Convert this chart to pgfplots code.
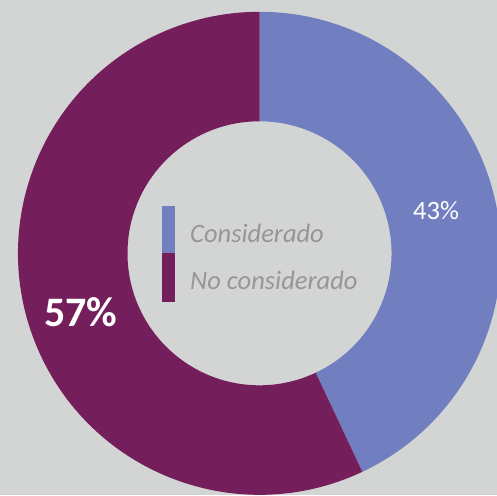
\documentclass[border=0pt]{standalone}
\usepackage{pgfplots}
\pgfplotsset{compat=1.18}
\usepackage{pgfplotstable}
\usepackage{fontspec}
\setmainfont{Carlito}
\definecolor{bg}{RGB}{211,213,212}
\definecolor{cblue}{RGB}{113,127,192}
\definecolor{cpurp}{RGB}{116,30,91}
\definecolor{legtext}{RGB}{150,150,150}
\pgfplotstableread{
value
43
57
}\datatable
\begin{document}
\begin{tikzpicture}
\pgfplotstablegetelem{0}{value}\of\datatable \let\va\pgfplotsretval
\pgfplotstablegetelem{1}{value}\of\datatable \let\vb\pgfplotsretval
\pgfmathsetmacro{\aA}{90-360*\va/(\va+\vb)}
\def\cx{259.5}\def\cy{241.7}\def\ro{241.5}\def\ri{132}
\begin{axis}[width=497pt,height=495pt,scale only axis,
  xmin=0,xmax=497,ymin=0,ymax=495,hide axis]
\fill[bg] (axis cs:0,0) rectangle (axis cs:497,495);
\fill[cblue] (axis cs:{\cx+\ro*cos(90)},{\cy+\ro*sin(90)})
   arc[start angle=90,end angle=\aA,radius=\ro]
   -- (axis cs:{\cx+\ri*cos(\aA)},{\cy+\ri*sin(\aA)})
   arc[start angle=\aA,end angle=90,radius=\ri] -- cycle;
\fill[cpurp] (axis cs:{\cx+\ro*cos(\aA)},{\cy+\ro*sin(\aA)})
   arc[start angle=\aA,end angle=-270,radius=\ro]
   -- (axis cs:{\cx+\ri*cos(-270)},{\cy+\ri*sin(-270)})
   arc[start angle=-270,end angle=\aA,radius=\ri] -- cycle;
\node[anchor=base west,inner sep=0pt,text=white,font=\fontsize{26.5}{30}\selectfont] at (axis cs:413,275) {43\%};
\node[anchor=base west,inner sep=0pt,text=white,font=\fontsize{42}{46}\selectfont\bfseries] at (axis cs:44,168) {57\%};
\fill[cblue] (axis cs:162,242) rectangle (axis cs:175,289);
\fill[cpurp] (axis cs:162,193) rectangle (axis cs:175,242);
\node[anchor=base west,inner sep=0pt,text=legtext,font=\fontsize{26.5}{30}\selectfont\itshape] at (axis cs:190,252) {Considerado};
\node[anchor=base west,inner sep=0pt,text=legtext,font=\fontsize{26.5}{30}\selectfont\itshape] at (axis cs:190,205) {No considerado};
\end{axis}
\end{tikzpicture}
\end{document}
